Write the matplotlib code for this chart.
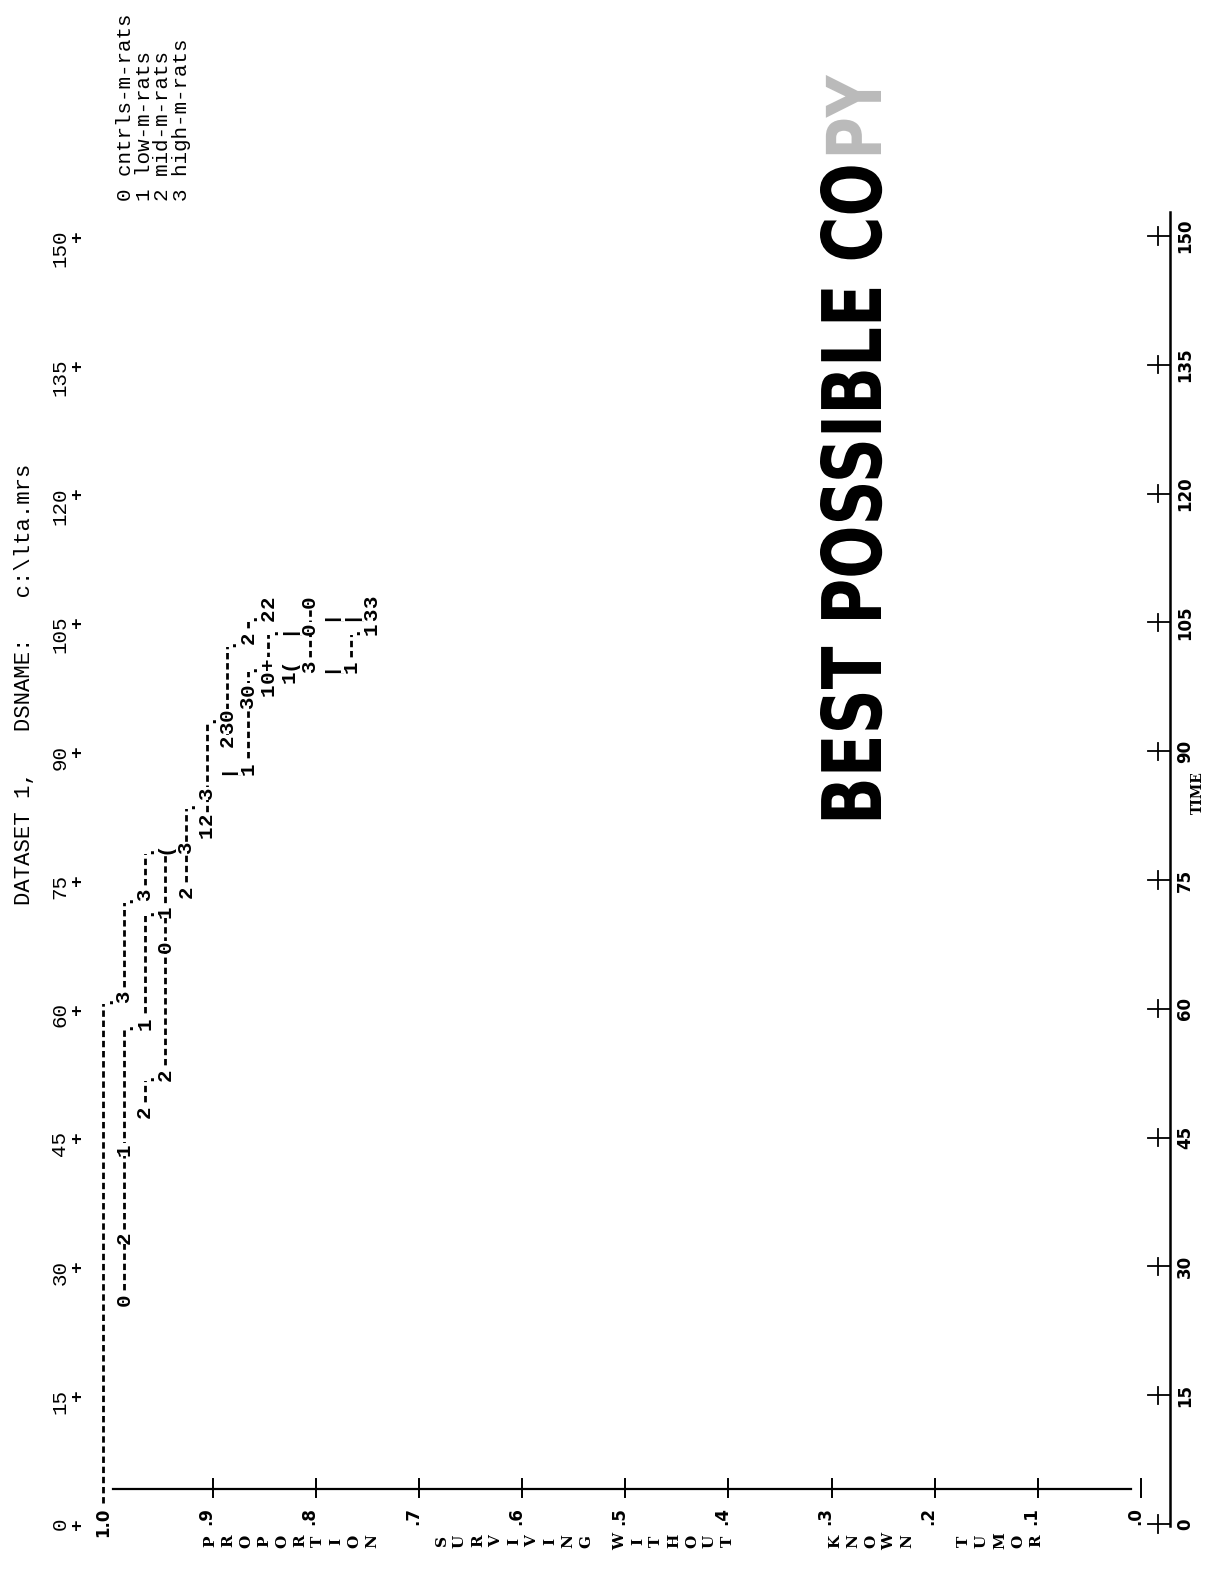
import matplotlib
matplotlib.use("Agg")
import matplotlib.pyplot as plt
import matplotlib.transforms as mtransforms
from matplotlib import font_manager
from matplotlib.patheffects import AbstractPathEffect

# line-printer survival plot, scanned sideways (time runs up the page)

HEADER = "DATASET 1,   DSNAME:   c:\\lta.mrs"
GROUP_CODES = ["0", "1", "2", "3"]
GROUP_NAMES = ["cntrls-m-rats", "low-m-rats", "mid-m-rats", "high-m-rats"]

TIME_TICKS = [0, 15, 30, 45, 60, 75, 90, 105, 120, 135, 150]
PROP_TICKS = [1.0, 0.9, 0.8, 0.7, 0.6, 0.5, 0.4, 0.3, 0.2, 0.1, 0.0]
PROP_LABELS = ["1.0", ".9", ".8", ".7", ".6", ".5", ".4", ".3", ".2", ".1", ".0"]
X_TITLE = "TIME"
Y_TITLE_WORDS = ["PROPORTION", "SURVIVING", "WITHOUT", "KNOWN", "TUMOR"]
STAMP = "BEST POSSIBLE COPY"

# dashed runs of the printed curves: proportion, start time, end time
RUN_PROP = [1.00, 0.98, 0.98, 0.96, 0.96, 0.96, 0.94, 0.92, 0.90, 0.88, 0.86, 0.86, 0.84, 0.80, 0.76]
RUN_START = [2.4, 26.1, 61.4, 48.0, 58.3, 73.3, 52.3, 73.6, 80.6, 91.3, 88.0, 103.2, 97.2, 99.8, 99.8]
RUN_END = [61.3, 58.3, 73.0, 52.3, 71.5, 78.8, 78.7, 84.0, 94.0, 102.9, 99.9, 105.9, 104.3, 107.4, 104.3]

# printed symbols on the curves (group codes, corners, overprints)
MARK_PROP = [1.00,
             0.98, 0.98, 0.98, 0.98, 0.98, 0.98,
             0.96, 0.96, 0.96, 0.96, 0.96, 0.96,
             0.94, 0.94, 0.94, 0.94,
             0.92, 0.92, 0.92,
             0.90, 0.90, 0.90, 0.90,
             0.88, 0.88, 0.88, 0.88, 0.88,
             0.86, 0.86, 0.86, 0.86, 0.86, 0.86,
             0.84, 0.84, 0.84, 0.84, 0.84, 0.84,
             0.82, 0.82, 0.82,
             0.80, 0.80, 0.80,
             0.78, 0.78,
             0.76, 0.76, 0.76,
             0.74, 0.74, 0.74]
MARK_TIME = [61.3,
             26.1, 33.3, 43.6, 58.3, 61.4, 73.0,
             48.0, 52.3, 58.3, 71.5, 73.3, 78.8,
             52.3, 67.2, 71.3, 78.7,
             73.6, 78.7, 84.0,
             80.6, 82.1, 85.1, 94.0,
             88.0, 91.2, 92.7, 94.2, 102.9,
             88.0, 95.7, 97.2, 99.9, 103.2, 105.9,
             97.2, 98.7, 100.2, 104.3, 105.9, 107.4,
             98.7, 100.2, 104.3,
             99.8, 104.3, 107.4,
             99.8, 105.9,
             99.8, 104.3, 105.9,
             104.3, 105.9, 107.4]
MARK_CHAR = [".",
             "0", "2", "1", ".", "3", ".",
             "2", ".", "1", ".", "3", ".",
             "2", "0", "1", "(",
             "2", "3", ".",
             "1", "2", "3", ".",
             "|", "2", "3", "0", ".",
             "1", "3", "0", ".", "2", ".",
             "1", "0", "+", ".", "2", "2",
             "1", "(", "|",
             "3", "0", "0",
             "|", "|",
             "1", ".", "|",
             "1", "3", "3"]

W_PX, H_PX = 1207, 1574
MONO = "Liberation Mono"


def fx(px):
    return px / W_PX


def fy(py):
    return 1 - py / H_PX


def pick_font(names):
    for n in names:
        try:
            font_manager.findfont(font_manager.FontProperties(family=n), fallback_to_default=False)
            return n
        except ValueError:
            pass
    return "DejaVu Sans"


class Tall(AbstractPathEffect):
    # stretches glyphs away from the baseline (tall condensed stamp lettering)
    def __init__(self, sy):
        super().__init__()
        self.sy = sy

    def draw_path(self, renderer, gc, tpath, affine, rgbFace=None):
        affine = mtransforms.Affine2D().scale(1.0, self.sy) + affine
        renderer.draw_path(gc, tpath, affine, rgbFace)


plt.rcParams['lines.scale_dashes'] = False

fig = plt.figure(figsize=(W_PX / 100, H_PX / 100), dpi=100)
fig.patch.set_facecolor("white")

# proportion runs 1.0 -> 0 left to right, time 0 -> 150 bottom to top
ax = fig.add_axes([fx(103.4), fy(1524), fx(1134.8) - fx(103.4), fy(236) - fy(1524)])
ax.set_xlim(1.0, 0.0)
ax.set_ylim(0, 150)
ax.axis("off")

fig_x_data_y = mtransforms.blended_transform_factory(fig.transFigure, ax.transData)
xt = ax.get_xaxis_transform()

# curves
for p, t0, t1 in zip(RUN_PROP, RUN_START, RUN_END):
    ax.plot([p, p], [t0, t1], color="black", lw=2.0, dashes=(4.6, 2.7), clip_on=False, zorder=2)

for p, t, c in zip(MARK_PROP, MARK_TIME, MARK_CHAR):
    ax.text(p, t, c, rotation=90, rotation_mode="anchor", ha="center", va="center",
            family=MONO, weight="bold", fontsize=15,
            bbox=dict(fc="white", ec="none", pad=0), zorder=3, clip_on=False)

# bottom (proportion) axis
ax.plot([0.991, 0.004], [0.027, 0.027], transform=xt, color="black", lw=1.6, clip_on=False)
for p, lab in zip(PROP_TICKS, PROP_LABELS):
    if p < 1.0:
        ax.plot([p - 0.006, p - 0.006], [0.021, 0.035], transform=xt, color="black", lw=1.4, clip_on=False)
    ax.text(p, 0.013, lab, transform=xt, rotation=90, rotation_mode="anchor", ha="right", va="center",
            family="DejaVu Sans", weight="bold", fontsize=12)

x0s = [210, 442, 620, 835, 964]
for word, x0 in zip(Y_TITLE_WORDS, x0s):
    for i, ch in enumerate(word):
        fig.text(fx(x0 + i * 18.0), fy(1541), ch, rotation=90, rotation_mode="anchor",
                 ha="center", va="center", family="DejaVu Serif", weight="bold", fontsize=11)

# right (time) axis
ax.plot([fx(1170), fx(1170)], [-0.2, 152.8], transform=fig_x_data_y, color="black", lw=1.8, clip_on=False)
cond = pick_font(["Liberation Sans Narrow", "DejaVu Sans Condensed"])
for t in TIME_TICKS:
    ax.plot([fx(1148), fx(1170)], [t, t], transform=fig_x_data_y, color="black", lw=1.3, clip_on=False)
    ax.plot([fx(1158), fx(1158)], [t - 1.0, t + 1.0], transform=fig_x_data_y, color="black", lw=1.3, clip_on=False)
    ax.text(fx(1185), t, str(t), transform=fig_x_data_y, rotation=90, ha="center", va="center",
            family=cond, weight="bold", fontsize=12)
fig.text(fx(1198), fy(793), X_TITLE, rotation=90, ha="center", va="center",
         family="DejaVu Serif", weight="bold", fontsize=10)

# printer's time scale along the top of the sheet (left edge here)
for t in TIME_TICKS:
    ax.text(fx(60), t + 0.75, str(t), transform=fig_x_data_y, rotation=90, rotation_mode="anchor",
            ha="right", va="center", family=MONO, fontsize=15)
    ax.text(fx(77), t, "+", transform=fig_x_data_y, rotation=90, ha="center", va="center",
            family=MONO, weight="bold", fontsize=14)

fig.text(fx(25), fy(905), HEADER, rotation=90, rotation_mode="anchor", ha="left", va="center",
         family=MONO, fontsize=16)

for i, (code, name) in enumerate(zip(GROUP_CODES, GROUP_NAMES)):
    fig.text(fx(125.5 + i * 18.6), fy(201), code + " " + name, rotation=90, rotation_mode="anchor",
             ha="left", va="center", family=MONO, fontsize=15)

# stamp over the scan: heavy tall capitals, "PY" half faded
stamp_font = pick_font(["Liberation Sans Narrow", "DejaVu Sans"])
s1 = fig.text(fx(881), fy(825), STAMP[:-2], rotation=90, rotation_mode="anchor", ha="left", va="baseline",
              family=stamp_font, weight="bold", fontsize=50)
fig.canvas.draw()
bb = s1.get_window_extent()
size = 50 * (825 - 162) / bb.height
s1.set_fontsize(size)
cap_px = 0.73 * size * 100 / 72
sy = 60.0 / cap_px
s1.set_path_effects([Tall(sy)])
fig.canvas.draw()
bb = s1.get_window_extent()
s2 = fig.text(fx(881), (bb.y1 + 4) / H_PX, STAMP[-2:], rotation=90, rotation_mode="anchor", ha="left",
              va="baseline", family=stamp_font, weight="bold", fontsize=size * 0.92,
              color="#777777", alpha=0.5, path_effects=[Tall(sy)])

fig.savefig("out.png", dpi=100, facecolor="white")
